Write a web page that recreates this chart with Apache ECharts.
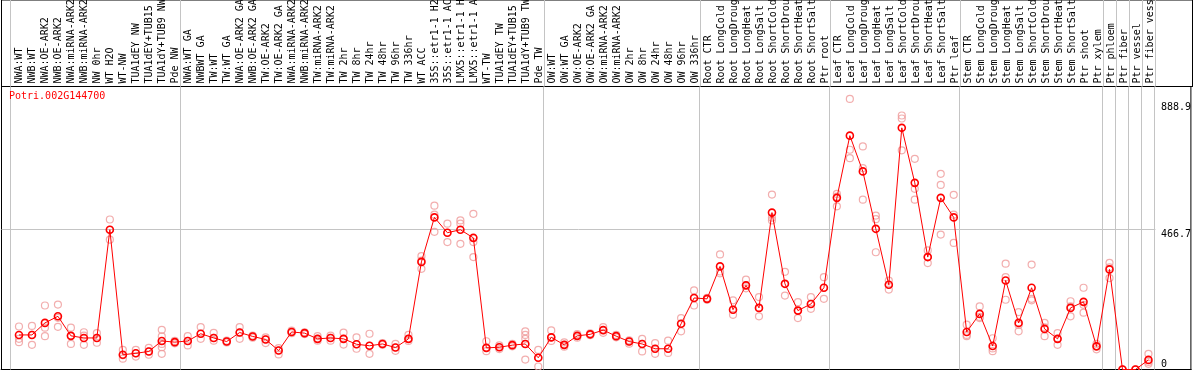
<!DOCTYPE html>
<html><head><meta charset="utf-8">
<script src="https://cdn.jsdelivr.net/npm/echarts@6/dist/echarts.min.js"></script>
<style>html,body{margin:0;padding:0;background:#fff}#c{width:1194px;height:370px}</style>
</head><body><div id="c"></div>
<script>
const geneName = 'Potri.002G144700';
const categories = [
 'NWA:WT','NWB:WT','NWA:OE-ARK2','NWB:OE-ARK2','NWA:miRNA-ARK2','NWB:miRNA-ARK2','NW 0hr','WT H2O','WT-NW','TUA1dEY NW','TUA1dEY+TUB15','TUA1dY+TUB9 NW','Pde NW',
 'NWA:WT GA','NWBWT GA','TW:WT','TW:WT GA','NWA:OE-ARK2 GA','NWB:OE-ARK2 GA','TW:OE-ARK2','TW:OE-ARK2 GA','NWA:miRNA-ARK2','NWB:miRNA-ARK2','TW:miRNA-ARK2','TW:miRNA-ARK2','TW 2hr','TW 8hr','TW 24hr','TW 48hr','TW 96hr','TW 336hr','WT ACC','35S::etr1-1 H2','35S::etr1-1 AC','LMX5::etr1-1 H','LMX5::etr1-1 A','WT-TW','TUA1dEY TW','TUA1dEY+TUB15','TUA1dY+TUB9 TW','Pde TW',
 'OW:WT','OW:WT GA','OW:OE-ARK2','OW:OE-ARK2 GA','OW:miRNA-ARK2','OW:miRNA-ARK2','OW 2hr','OW 8hr','OW 24hr','OW 48hr','OW 96hr','OW 336hr',
 'Root CTR','Root LongCold','Root LongDroug','Root LongHeat','Root LongSalt','Root ShortCold','Root ShortDrou','Root ShortHeat','Root ShortSalt','Ptr root',
 'Leaf CTR','Leaf LongCold','Leaf LongDroug','Leaf LongHeat','Leaf LongSalt','Leaf ShortCold','Leaf ShortDrou','Leaf ShortHeat','Leaf ShortSalt','Ptr leaf',
 'Stem CTR','Stem LongCold','Stem LongDroug','Stem LongHeat','Stem LongSalt','Stem ShortCold','Stem ShortDrou','Stem ShortHeat','Stem ShortSalt','Ptr shoot','Ptr xylem',
 'Ptr phloem','Ptr fiber','Ptr vessel','Ptr fiber vess'
];
const means = [
 115,115,155,177,112,105,105,465,49,54,60,95,91,
 95,119,105,93,123,110,100,63,125,121,102,105,102,84,79,85,73,102,358,506,455,465,438,72,74,81,85,39,
 107,82,112,117,131,111,93,85,69,69,152,238,
 235,343,199,280,205,522,285,196,218,272,
 571,778,659,468,282,804,621,374,571,506,
 125,185,78,296,155,272,135,102,205,225,77,
 333,0,0,32
];
const replicates = [
 [143,102,91],[145,115,82],[213,139,111],[216,172,142],[139,112,85],[124,113,82],[121,105,89],[499,465,432],[65,47,36],[65,54,43],[72,60,49],[132,110,85,74,52],[95,91,87],
 [111,95,80],[141,119,102],[122,105,96],[96,93,90],[141,123,102],[113,110,106],[107,100,88],[71,63,50],[129,125,121],[124,121,118],[111,102,96],[113,105,96],[123,102,83],[107,84,69],[119,79,52],[88,85,82],[85,73,62],[115,102,95],[377,362,335],[545,515,458],[485,455,424],[496,485,418],[518,424,374],[94,72,61],[80,74,68],[85,81,77],[127,115,102,85,33],[65,39,10],
 [130,107,95],[90,82,76],[118,112,106],[120,117,114],[141,131,122],[115,111,107],[97,93,86],[102,85,60],[88,69,52],[96,69,55],[171,152,127],[263,238,213],
 [238,235,232],[383,326,320],[230,199,182],[299,280,270],[241,205,177],[582,505,496],[325,285,246],[224,196,171],[241,218,202],[307,272,235],
 [584,575,543],[900,731,703],[742,670,565],[512,500,390],[296,282,266],[845,835,729],[701,601,565],[396,374,354],[651,614,449],[581,515,421],
 [149,115,111],[210,175,171],[104,70,61],[352,307,232],[191,148,127],[349,235,230],[155,140,111],[121,102,82],[227,210,177],[272,215,189],[85,78,67],
 [355,340,304],[0,0,0],[0,0,0],[52,25,19]
];
const groupEnds = [12, 40, 52, 62, 72, 83, 84, 85, 86, 87];
const yTickLabels = [888.9, 466.7];
const yZeroLabel = [0];
const gridLineValue = 466.7;

const FONT = 'DejaVu Sans Mono';
const GRAY = '#c4c4c4';
const X0 = 19, STEP = 13, LEFT = 1.5, WIDTH = 1191;
const xMin = (LEFT - X0) / STEP;
const xMax = xMin + WIDTH / STEP;
const pxToVal = px => (px - X0) / STEP;
const yMax = 941.5;

const sepVals = [pxToVal(10.5)].concat(groupEnds.map(e => e + 5.5 / STEP));
const sepData = sepVals.map(v => ({ xAxis: v }));

const meanData = means.map((v, i) => [i, v]);
const repData = [];
replicates.forEach((arr, i) => arr.forEach(v => repData.push([i, v])));

const chart = echarts.init(document.getElementById('c'), null, { renderer: 'canvas' });
chart.setOption({
  animation: false,
  backgroundColor: '#fff',
  title: {
    text: geneName, left: 9, top: 91, padding: 0,
    textStyle: { color: '#ff0000', fontFamily: FONT, fontSize: 10, fontWeight: 'normal' }
  },
  grid: [
    { left: LEFT, top: -4, width: WIDTH, height: 90.5, show: true, borderColor: '#000', borderWidth: 1, backgroundColor: 'transparent' },
    { left: LEFT, top: 86.5, width: WIDTH, height: 283, show: true, borderColor: '#000', borderWidth: 1, backgroundColor: 'transparent' }
  ],
  xAxis: [
    { type: 'value', gridIndex: 0, min: xMin, max: xMax, position: 'bottom',
      axisLine: { show: true, lineStyle: { color: '#000', width: 1 } },
      axisTick: { show: false }, splitLine: { show: false },
      axisLabel: { show: true, inside: true, rotate: 90, margin: 3,
        customValues: categories.map((_, i) => i),
        formatter: v => categories[Math.round(v)] || '',
        fontFamily: FONT, fontSize: 10, color: '#000' } },
    { type: 'value', gridIndex: 1, min: xMin, max: xMax,
      axisLine: { show: true, lineStyle: { color: '#000', width: 2 } },
      axisTick: { show: false }, splitLine: { show: false }, axisLabel: { show: false } }
  ],
  yAxis: [
    { type: 'value', gridIndex: 0, min: 0, max: 1, show: false },
    { type: 'value', gridIndex: 1, min: 0, max: yMax, position: 'right',
      axisLine: { show: false }, axisTick: { show: false }, splitLine: { show: false },
      axisLabel: { inside: true, margin: 30, align: 'left', verticalAlign: 'top',
        customValues: yTickLabels, formatter: v => v.toFixed(1),
        fontFamily: FONT, fontSize: 10, color: '#000' } },
    { type: 'value', gridIndex: 1, min: 0, max: yMax, position: 'right',
      axisLine: { show: false }, axisTick: { show: false }, splitLine: { show: false },
      axisLabel: { inside: true, margin: 30, align: 'left', verticalAlign: 'bottom',
        customValues: yZeroLabel, formatter: v => String(v),
        fontFamily: FONT, fontSize: 10, color: '#000' } }
  ],
  series: [
    { type: 'line', xAxisIndex: 0, yAxisIndex: 0, data: [[0, 0.5]], symbol: 'none', lineStyle: { width: 0 }, z: 1, silent: true,
      markLine: { silent: true, symbol: 'none', label: { show: false }, animation: false,
        lineStyle: { color: GRAY, width: 1, type: 'solid' }, data: sepData } },
    { type: 'scatter', xAxisIndex: 1, yAxisIndex: 1, data: repData, z: 2, silent: true, clip: false,
      symbol: 'circle', symbolSize: 7,
      itemStyle: { color: 'rgba(255,255,255,0)', borderColor: '#ef9a9a', borderWidth: 1.2 },
      markLine: { silent: true, symbol: 'none', label: { show: false }, animation: false, z: 1,
        lineStyle: { color: GRAY, width: 1, type: 'solid' },
        data: sepData.concat([[ { coord: [xMin, gridLineValue] }, { coord: [pxToVal(1157), gridLineValue] } ]]) } },
    { type: 'line', xAxisIndex: 1, yAxisIndex: 1, data: meanData, z: 3, silent: true,
      symbol: 'circle', symbolSize: 7, showAllSymbol: true,
      lineStyle: { color: '#ff0000', width: 1 },
      itemStyle: { color: 'rgba(255,255,255,0)', borderColor: '#ff0000', borderWidth: 1.6 } }
  ]
});
</script></body></html>
